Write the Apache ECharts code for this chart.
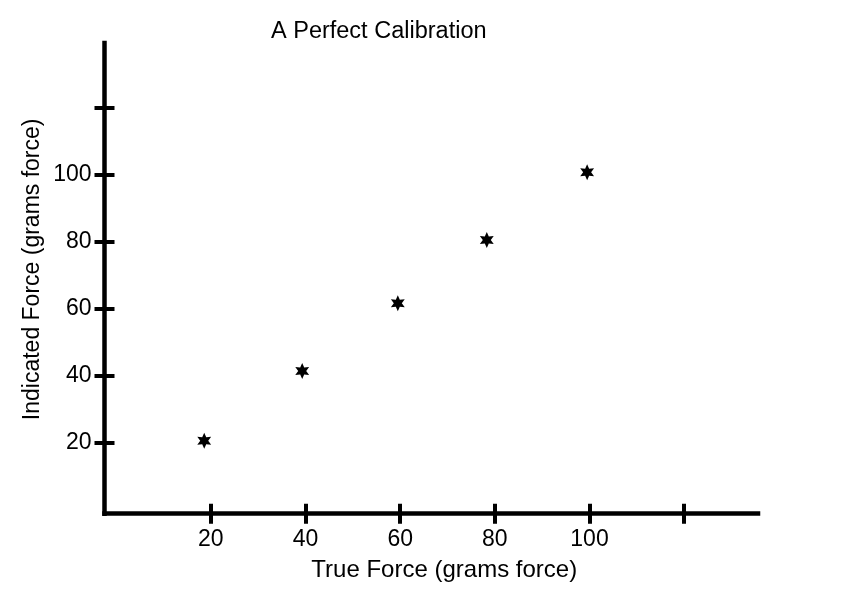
<!DOCTYPE html>
<html>
<head>
<meta charset="utf-8">
<script src="https://cdn.jsdelivr.net/npm/echarts@6/dist/echarts.min.js"></script>
<style>html,body{margin:0;padding:0;background:#fff;}#main{width:850px;height:600px;}</style>
</head>
<body>
<div id="main"></div>
<script>
// Data
const trueForce = [18.6, 39.3, 59.5, 78.3, 99.5];
const indicatedForce = [20.6, 41.4, 61.6, 80.5, 100.7];
const xTicks = [20, 40, 60, 80, 100, 120];
const xLabels = [20, 40, 60, 80, 100];
const yTicks = [20, 40, 60, 80, 100, 120];
const yLabels = [20, 40, 60, 80, 100];
const titleText = 'A Perfect Calibration';
const xName = 'True Force (grams force)';
const yName = 'Indicated Force (grams force)';

const FONT = '"Liberation Sans", Arial, sans-serif';
const starPath = 'path://M0,-10L2.5,-4.33L8.66,-5L5,0L8.66,5L2.5,4.33L0,10L-2.5,4.33L-8.66,5L-5,0L-8.66,-5L-2.5,-4.33Z';

const X_MIN = -2.47, X_MAX = 135.6, Y_MIN = -1.2, Y_MAX = 139.3;
const tickStyle = { color: '#000', width: 4 };

function baseX(showAll, inside) {
  return {
    type: 'value', gridIndex: 0, position: 'bottom', min: X_MIN, max: X_MAX,
    splitLine: { show: false },
    axisLine: { show: showAll, onZero: false, lineStyle: { color: '#000', width: 4.5, cap: 'square' } },
    axisTick: { show: true, inside: inside, length: 10, lineStyle: tickStyle, customValues: xTicks },
    axisLabel: { show: showAll, customValues: xLabels, color: '#000', fontSize: 23, fontFamily: FONT, margin: 14 },
    name: showAll ? xName : '', nameLocation: 'middle', nameGap: 45, nameMoveOverlap: false,
    nameTextStyle: { color: '#000', fontSize: 24, fontFamily: FONT, padding: [0, 0, 0, 26] }
  };
}
function baseY(showAll, inside) {
  return {
    type: 'value', gridIndex: 0, position: 'left', min: Y_MIN, max: Y_MAX,
    splitLine: { show: false },
    axisLine: { show: showAll, onZero: false, lineStyle: { color: '#000', width: 4.5, cap: 'square' } },
    axisTick: { show: true, inside: inside, length: 10, lineStyle: tickStyle, customValues: yTicks },
    axisLabel: { show: showAll, customValues: yLabels, color: '#000', fontSize: 23, fontFamily: FONT, margin: 13 },
    name: showAll ? yName : '', nameLocation: 'middle', nameGap: 60, nameMoveOverlap: false, nameRotate: 90,
    nameTextStyle: { color: '#000', fontSize: 23, fontFamily: FONT, padding: [0, 0, 0, 18] }
  };
}

const chart = echarts.init(document.getElementById('main'), null, { renderer: 'canvas' });
chart.setOption({
  backgroundColor: '#fff',
  animation: false,
  title: {
    text: titleText, left: 271, top: 20, padding: 0,
    textStyle: { color: '#000', fontSize: 23.5, fontWeight: 'normal', fontFamily: FONT }
  },
  grid: { left: 104.5, right: 92, top: 43, bottom: 86.3, containLabel: false },
  xAxis: [baseX(true, false), baseX(false, true)],
  yAxis: [baseY(true, false), baseY(false, true)],
  series: [{
    type: 'scatter', xAxisIndex: 0, yAxisIndex: 0,
    data: trueForce.map((x, i) => [x, indicatedForce[i]]),
    symbol: starPath, symbolSize: 16, symbolKeepAspect: true,
    itemStyle: { color: '#000', opacity: 1 }
  }]
});
</script>
</body>
</html>
